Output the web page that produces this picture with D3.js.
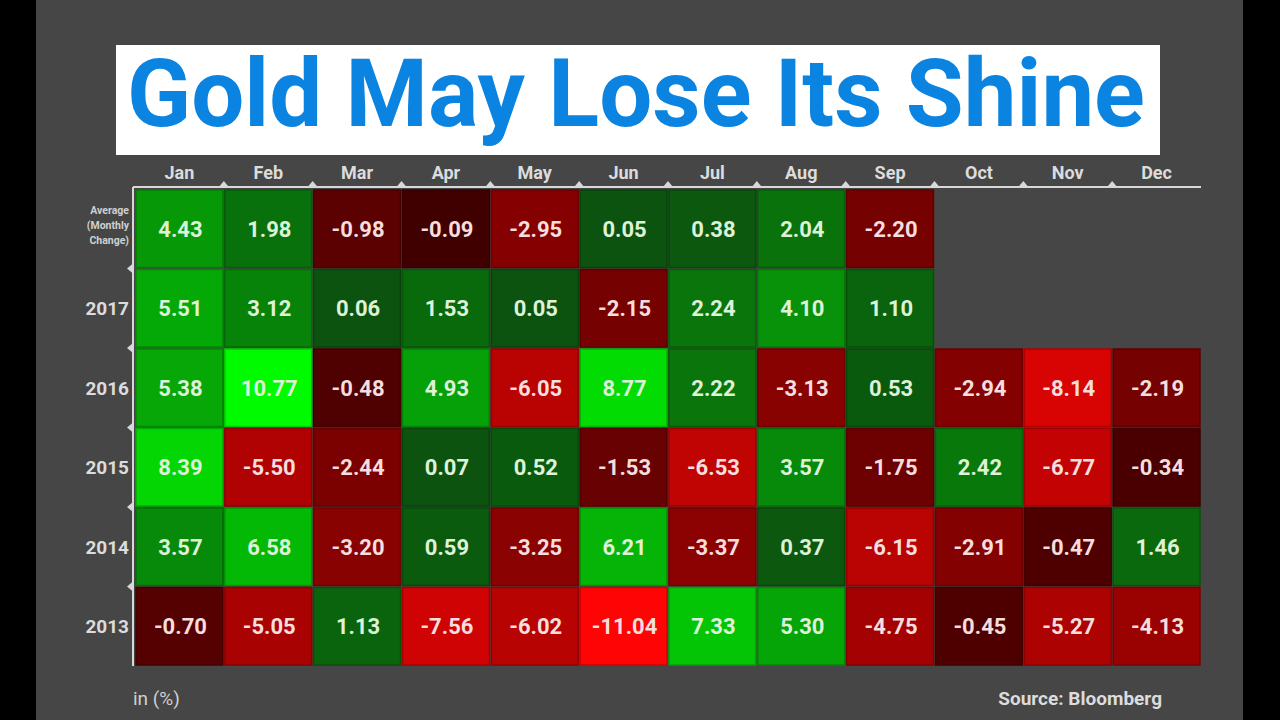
<!DOCTYPE html>
<html><head><meta charset="utf-8">
<script src="https://cdn.jsdelivr.net/npm/d3@7/dist/d3.min.js"></script>
<style>html,body{margin:0;padding:0;background:#000;}svg{display:block;}</style>
</head><body>
<svg id="c" width="1280" height="720"></svg>
<script>
const months = ["Jan","Feb","Mar","Apr","May","Jun","Jul","Aug","Sep","Oct","Nov","Dec"];
const rowLabels = ["Average","2017","2016","2015","2014","2013"];
const avgValues  = [4.43, 1.98, -0.98, -0.09, -2.95, 0.05, 0.38, 2.04, -2.20, null, null, null];
const y2017 = [5.51, 3.12, 0.06, 1.53, 0.05, -2.15, 2.24, 4.10, 1.10, null, null, null];
const y2016 = [5.38, 10.77, -0.48, 4.93, -6.05, 8.77, 2.22, -3.13, 0.53, -2.94, -8.14, -2.19];
const y2015 = [8.39, -5.50, -2.44, 0.07, 0.52, -1.53, -6.53, 3.57, -1.75, 2.42, -6.77, -0.34];
const y2014 = [3.57, 6.58, -3.20, 0.59, -3.25, 6.21, -3.37, 0.37, -6.15, -2.91, -0.47, 1.46];
const y2013 = [-0.70, -5.05, 1.13, -7.56, -6.02, -11.04, 7.33, 5.30, -4.75, -0.45, -5.27, -4.13];
const series = [avgValues, y2017, y2016, y2015, y2014, y2013];

const svg = d3.select("#c");
svg.append("rect").attr("x",0).attr("y",0).attr("width",1280).attr("height",720).attr("fill","#000");
svg.append("rect").attr("x",36).attr("y",0).attr("width",1207).attr("height",720).attr("fill","#464646");

// Title
svg.append("rect").attr("x",116).attr("y",45).attr("width",1044).attr("height",110).attr("fill","#fff");
const title = svg.append("text").attr("x",636).attr("y",126).attr("text-anchor","middle")
  .attr("font-family","Roboto").attr("font-weight","bold").attr("font-size",88)
  .attr("fill","#0a84e0").text("Gold May Lose Its Shine");
const tw = title.node().getComputedTextLength();
title.attr("font-size", 88*1018/tw);

const x = d3.scaleBand().domain(months).range([135,1201]).padding(0);
const y = d3.scaleBand().domain(rowLabels).range([189,666]).padding(0);

const green = d3.scaleLinear().domain([0,11]).range(["#0b520e","#00ff00"]).clamp(true);
const red = d3.scalePow().exponent(0.75).domain([0,11]).range(["#3c0000","#ff0404"]).clamp(true);
const col = v => v >= 0 ? green(v) : red(-v);

const cells = [];
series.forEach((arr,i)=>arr.forEach((v,j)=>{ if(v!==null) cells.push({r:rowLabels[i], m:months[j], v}); }));

const g = svg.append("g");
g.selectAll("rect.cell").data(cells).join("rect").attr("class","cell")
  .attr("x",d=>x(d.m)+1).attr("y",d=>y(d.r)+1)
  .attr("width",x.bandwidth()-2).attr("height",y.bandwidth()-2)
  .attr("fill",d=>col(d.v))
  .attr("stroke",d=>d3.color(col(d.v)).darker(0.6)).attr("stroke-width",1.5);
g.selectAll("text.val").data(cells).join("text").attr("class","val")
  .attr("x",d=>x(d.m)+x.bandwidth()/2+1).attr("y",d=>y(d.r)+y.bandwidth()/2+8)
  .attr("text-anchor","middle").attr("font-family","Roboto").attr("font-weight","bold")
  .attr("font-size",22).attr("fill",d=>d.v>=0?"#def2d8":"#f6dede")
  .text(d=>d.v.toFixed(2));

// Top axis
const axisColor = "#d8d8d8";
svg.append("line").attr("x1",133).attr("x2",1201).attr("y1",187).attr("y2",187).attr("stroke",axisColor).attr("stroke-width",2);
svg.selectAll("text.month").data(months).join("text").attr("class","month")
  .attr("x",d=>x(d)+x.bandwidth()/2).attr("y",179).attr("text-anchor","middle")
  .attr("font-family","Roboto").attr("font-weight","bold").attr("font-size",18).attr("fill","#dcdcdc").text(d=>d);
svg.selectAll("path.tt").data(months.slice(1)).join("path").attr("class","tt")
  .attr("d",d=>{const px=x(d); return `M${px-5},187 L${px},181 L${px+5},187 Z`;}).attr("fill",axisColor);

// Left axis
svg.append("line").attr("x1",133).attr("x2",133).attr("y1",187).attr("y2",666).attr("stroke",axisColor).attr("stroke-width",2);
svg.selectAll("path.lt").data(rowLabels.slice(1)).join("path").attr("class","lt")
  .attr("d",d=>{const py=y(d); return `M133,${py-5} L127,${py} L133,${py+5} Z`;}).attr("fill",axisColor);
svg.selectAll("text.row").data(rowLabels.slice(1)).join("text").attr("class","row")
  .attr("x",129).attr("y",d=>y(d)+y.bandwidth()/2+7).attr("text-anchor","end")
  .attr("font-family","Roboto").attr("font-weight","bold").attr("font-size",19).attr("fill","#dcdcdc").text(d=>d);
const avgLines = ["Average","(Monthly","Change)"];
svg.selectAll("text.avg").data(avgLines).join("text").attr("class","avg")
  .attr("x",129).attr("y",(d,i)=>y("Average")+25+i*15).attr("text-anchor","end")
  .attr("font-family","Roboto").attr("font-weight","bold").attr("font-size",10.5).attr("fill","#d0d0d0").text(d=>d);

// Footer
svg.append("text").attr("x",133).attr("y",705).attr("font-family","Roboto").attr("font-size",19).attr("fill","#cfcfcf").text("in (%)");
svg.append("text").attr("x",1162).attr("y",705).attr("text-anchor","end").attr("font-family","Roboto").attr("font-weight","bold").attr("font-size",19).attr("fill","#dcdcdc").text("Source: Bloomberg");
</script>
</body></html>
